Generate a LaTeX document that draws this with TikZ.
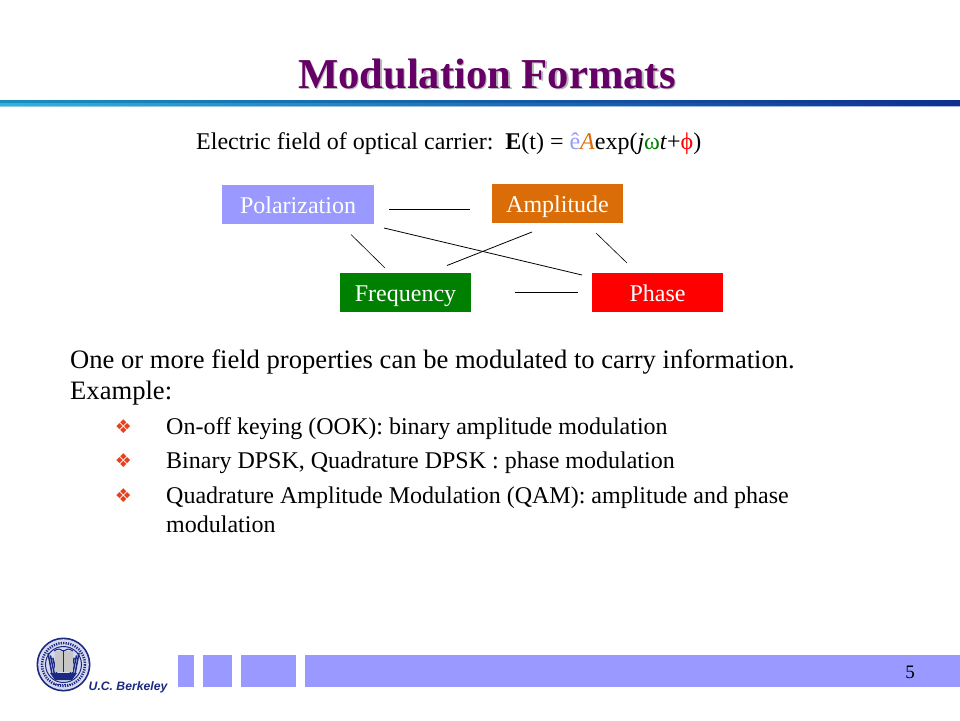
\documentclass[tikz,border=0pt]{standalone}
\usepackage{fontspec}
\setmainfont{Liberation Serif}
\newfontfamily\sansfont{Liberation Sans}
\newfontfamily\symfont{DejaVu Sans}
\definecolor{titlepurple}{HTML}{660066}
\definecolor{titleshadow}{HTML}{B8B8B8}
\definecolor{boxblue}{HTML}{9999FF}
\definecolor{ampbox}{HTML}{DA6D08}
\definecolor{freqbox}{HTML}{008000}
\definecolor{bulletred}{HTML}{E8401C}
\definecolor{sealblue}{HTML}{1B2A80}
\definecolor{sealpale}{HTML}{D5D8EE}
\definecolor{ruledark}{HTML}{1890BF}
\definecolor{rulelight}{HTML}{35B0DC}
\definecolor{rulepale}{HTML}{8ECFE0}
\definecolor{rulenavy}{HTML}{0E2F90}
\definecolor{rulepaleb}{HTML}{AAB5DC}
\newcommand{\shadowtitle}[1]{\rlap{\kern1.5pt\raisebox{-1.5pt}{\textcolor{titleshadow}{#1}}}\textcolor{titlepurple}{#1}}
\tikzset{
	propbox/.style={minimum height=39pt, text=white, text height=18pt, text depth=1pt, font=\fontsize{24}{24}\selectfont, inner sep=0pt},
	titletext/.style={anchor=base, inner sep=0pt, font=\bfseries\fontsize{42.6}{42.6}\selectfont},
	bodytext/.style={anchor=base west, inner sep=0pt, font=\fontsize{26.6}{26.6}\selectfont},
	itemtext/.style={anchor=base west, inner sep=0pt, font=\fontsize{24}{24}\selectfont},
	bulletmark/.style={anchor=center, inner sep=0pt, text=bulletred, font=\symfont\fontsize{19}{19}\selectfont},
	footbox/.style={fill=boxblue, draw=none},
	wire/.style={draw=black, line width=0.8pt}
}
\begin{document}
\begin{tikzpicture}[x=1pt, y=-1pt]
	\useasboundingbox (0,0) rectangle (960,720);
	\fill[white] (0,0) rectangle (960,720);
	% Title and rule:
	\node[titletext] (title) at (487,88){\shadowtitle{Modulation Formats}};
	\shade[left color=rulepale, right color=rulepaleb] (0,105.5) rectangle (960,106.8);
	\shade[left color=ruledark, right color=rulenavy] (0,100) rectangle (960,105.6);
	\shade[left color=rulelight, right color=rulenavy] (0,103) rectangle (960,105);
	% Equation line:
	\node[anchor=base west, inner sep=0pt, font=\fontsize{24}{24}\selectfont] (field) at (196,149.5){Electric field of optical carrier:\ \ \textbf{E}(t) = \textcolor{boxblue}{ê}\textcolor{ampbox}{\itshape A}exp(\textit{j}\textcolor{freqbox}{ω}\textit{t}+\textcolor{red}{ϕ})};
	% Boxes:
	\node[propbox, fill=boxblue, minimum width=152pt] (polar) at (298,204.5){Polarization};
	\node[propbox, fill=ampbox, minimum width=131pt] (ampl) at (557.5,203.5){Amplitude};
	\node[propbox, fill=freqbox, minimum width=131pt] (freq) at (405.5,292.5){Frequency};
	\node[propbox, fill=red, minimum width=131pt] (phase) at (657.5,292.5){Phase};
	% Wire ends:
	\coordinate (pa1) at (389,209);
	\coordinate (pa2) at (470,209);
	\coordinate (fp1) at (515,292);
	\coordinate (fp2) at (578,292);
	\coordinate (pf1) at (351,234.5);
	\coordinate (pf2) at (385,268);
	\coordinate (af1) at (532,232);
	\coordinate (af2) at (447,265.5);
	\coordinate (pp1) at (384,228);
	\coordinate (pp2) at (582,275);
	\coordinate (ap1) at (596,233);
	\coordinate (ap2) at (627,263);
	\draw[wire] (pa1) -- (pa2);
	\draw[wire] (fp1) -- (fp2);
	\draw[wire, line width=0.6pt] (pf1) -- (pf2);
	\draw[wire] (af1) -- (af2);
	\draw[wire] (pp1) -- (pp2);
	\draw[wire, line width=0.6pt] (ap1) -- (ap2);
	% Text:
	\node[bodytext] (line1) at (70,368){One or more field properties can be modulated to carry information.};
	\node[bodytext] (line2) at (70,399.5){Example:};
	\node[bulletmark] (b1) at (123.5,427){❖};
	\node[bulletmark] (b2) at (123.5,461){❖};
	\node[bulletmark] (b3) at (123.5,496){❖};
	\node[itemtext] (item1) at (166,434){On-off keying (OOK): binary amplitude modulation};
	\node[itemtext] (item2) at (166,468){Binary DPSK, Quadrature DPSK : phase modulation};
	\node[itemtext] (item3) at (166,503){Quadrature Amplitude Modulation (QAM): amplitude and phase};
	\node[itemtext] (item4) at (166,532){modulation};
	% Footer:
	\fill[footbox] (178,655) rectangle (194,687);
	\fill[footbox] (203,655) rectangle (232,687);
	\fill[footbox] (241,655) rectangle (296,687);
	\fill[footbox] (305,655) rectangle (960,687);
	\node[inner sep=0pt, font=\fontsize{19}{19}\selectfont] (pagenum) at (910,672){5};
	% Seal:
	\fill[sealblue] (63.5,664.5) circle (27);
	\fill[sealpale] (63.5,664.5) circle (25.3);
	\draw[sealblue, line width=2.5pt, dash pattern=on 1.2pt off 1.2pt] (63.5,664.5) circle (21.5);
	\draw[sealblue, line width=1pt] (63.5,664.5) circle (18);
	\foreach \dx in {0,2.4,4.8} {
		\draw[sealblue, line width=1.5pt] (48+\dx,653+\dx) -- (52+\dx,674);
		\draw[sealblue, line width=1.5pt] (79-\dx,653+\dx) -- (75-\dx,674);
	}
	\fill[black!22] (54.5,651) rectangle (72.5,672);
	\draw[sealblue, line width=1.6pt] (63.5,650) -- (63.5,672);
	\draw[sealblue, line width=1pt] (54,651) .. controls (58,648) and (61,649) .. (63.5,651) .. controls (66,649) and (69,648) .. (73,651);
	\fill[sealblue] (50,673) -- (77,673) -- (72,680) -- (55,680) -- cycle;
	\draw[sealblue, line width=1.6pt, dash pattern=on 1.5pt off 1pt] (54,684.5) -- (73,684.5);
	\node[anchor=base west, inner sep=0pt, text=sealblue, font=\sansfont\bfseries\itshape\fontsize{12.2}{12.2}\selectfont] (berkeley) at (88.5,690){U.C. Berkeley};
\end{tikzpicture}
\end{document}
